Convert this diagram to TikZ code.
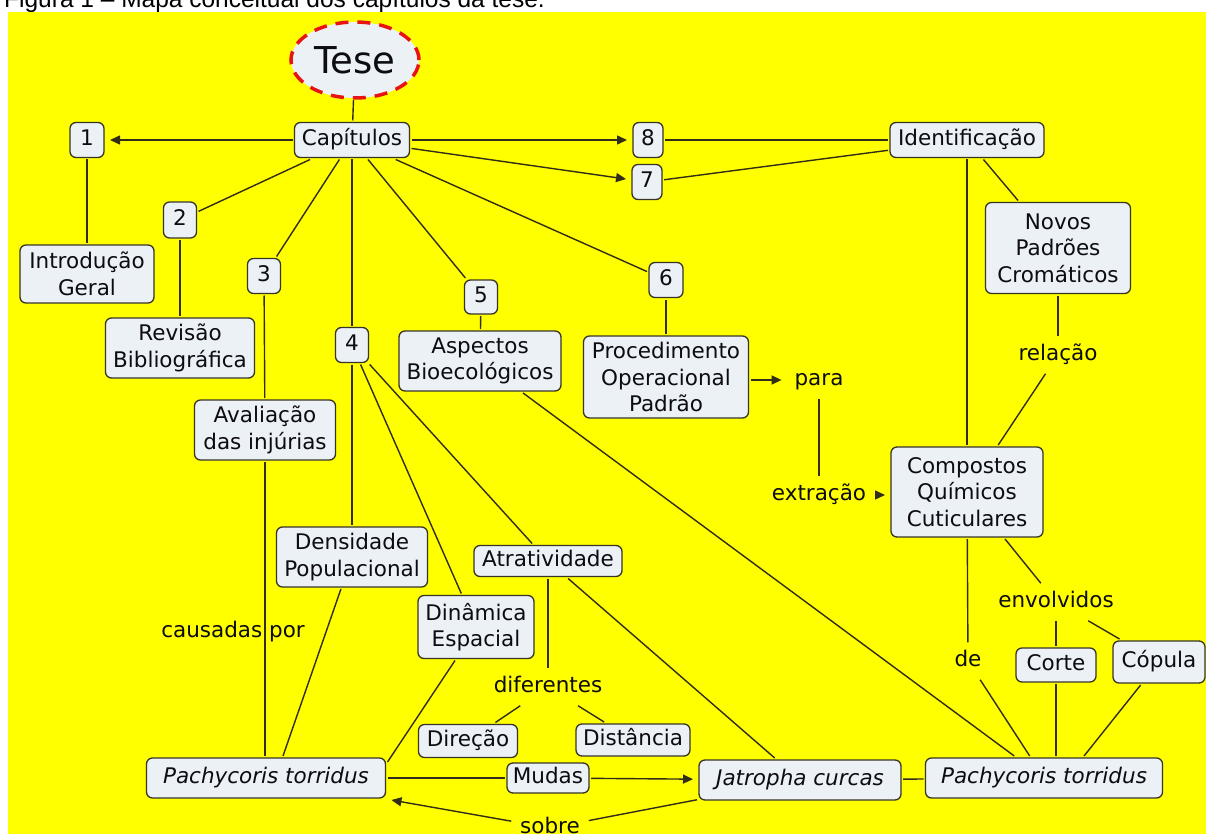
\documentclass[tikz,border=0pt]{standalone}
\usepackage{fontspec}
\setmainfont{DejaVu Sans}
\newfontfamily\capfont{Liberation Sans}
\usetikzlibrary{arrows.meta,shapes.geometric,calc}
\definecolor{bgyellow}{RGB}{255,255,0}
\definecolor{boxfill}{RGB}{236,241,246}
\definecolor{boxline}{RGB}{55,52,40}
\definecolor{linecol}{RGB}{50,45,25}
\definecolor{txt}{RGB}{12,12,18}
\definecolor{tesered}{RGB}{232,20,20}
\begin{document}
\begin{tikzpicture}[x=1pt,y=-1pt,
  box/.style={draw=boxline, fill=boxfill, rounded corners=6pt, line width=1.3pt, align=center,
    inner xsep=2pt, inner ysep=0pt, outer sep=2pt, font=\fontsize{21.5}{26.5}\selectfont, text=txt},
  one/.style={text height=15.5pt, text depth=4.5pt},
  lbl/.style={font=\fontsize{21.5}{26.5}\selectfont, text=txt, inner sep=3pt, outer sep=6pt,
    text height=15.5pt, text depth=4pt},
  con/.style={draw=linecol, line width=1.4pt},
  arr/.style={con, -{Triangle[length=10pt,width=9pt]}, shorten >=4pt},
]
\useasboundingbox (0,0) rectangle (1206,834);
\node[anchor=base west, font=\capfont\fontsize{24.5}{24.5}\selectfont, inner sep=0pt] (caption) at (4,7.5)
  {Figura 1 – Mapa conceitual dos capítulos da tese.};
\fill[bgyellow] (8,12) rectangle (1206,834);

% Tese
\node[ellipse, draw=tesered, line width=3.5pt, dash pattern=on 13pt off 9pt, fill=boxfill,
  minimum width=128pt, minimum height=76pt, inner sep=0pt, outer sep=2pt,
  font=\fontsize{37}{37}\selectfont, text=txt] (tese) at (355,60) {Tese};

% boxes
\node[box, one, minimum width=115pt, minimum height=35pt] (cap) at (352,140) {Capítulos};
\node[box, one, minimum width=34pt, minimum height=35pt] (n1) at (87,140) {1};
\node[box, one, minimum width=30pt, minimum height=35pt] (n8) at (648,140) {8};
\node[box, one, minimum width=30pt, minimum height=35pt] (n7) at (647,182) {7};
\node[box, one, minimum width=154pt, minimum height=35pt] (ident) at (967,140) {Identificação};
\node[box, one, minimum width=33pt, minimum height=36pt] (n2) at (180,220) {2};
\node[box, minimum width=134pt, minimum height=58pt] (intro) at (87,274) {Introdução\\Geral};
\node[box, one, minimum width=33pt, minimum height=35pt] (n3) at (264,276) {3};
\node[box, minimum width=149pt, minimum height=60pt] (rev) at (180,348) {Revisão\\Bibliográfica};
\node[box, one, minimum width=33pt, minimum height=35pt] (n4) at (352,345) {4};
\node[box, minimum width=141pt, minimum height=60pt] (aval) at (265,430) {Avaliação\\das injúrias};
\node[box, one, minimum width=33pt, minimum height=34pt] (n5) at (481,297) {5};
\node[box, one, minimum width=34pt, minimum height=35pt] (n6) at (666,280) {6};
\node[box, minimum width=162pt, minimum height=60pt] (asp) at (480,361) {Aspectos\\Bioecológicos};
\node[box, minimum width=165pt, minimum height=82pt] (proc) at (666,377) {Procedimento\\Operacional\\Padrão};
\node[box, minimum width=152pt, minimum height=90pt] (comp) at (967,492) {Compostos\\Químicos\\Cuticulares};
\node[box, minimum width=145pt, minimum height=91pt] (novos) at (1058,248) {Novos\\Padrões\\Cromáticos};
\node[box, one, minimum width=80pt, minimum height=34pt] (corte) at (1056,665) {Corte};
\node[box, one, minimum width=92pt, minimum height=42pt] (copula) at (1159,662) {Cópula};
\node[box, one, minimum width=237pt, minimum height=40pt] (pt2) at (1044,778) {\itshape Pachycoris torridus};
\node[box, one, minimum width=202pt, minimum height=40pt] (jat) at (800,780) {\itshape Jatropha curcas};
\node[box, one, minimum width=82pt, minimum height=30pt] (mudas) at (548,778) {Mudas};
\node[box, one, minimum width=99pt, minimum height=33pt] (direcao) at (468,741) {Direção};
\node[box, one, minimum width=114pt, minimum height=32pt] (dist) at (633,740) {Distância};
\node[box, one, minimum width=148pt, minimum height=31pt] (atr) at (548,561) {Atratividade};
\node[box, minimum width=116pt, minimum height=63pt] (din) at (476,627) {Dinâmica\\Espacial};
\node[box, minimum width=151pt, minimum height=60pt] (dens) at (352,557) {Densidade\\Populacional};
\node[box, one, minimum width=239pt, minimum height=40pt] (pt1) at (266,778) {\itshape Pachycoris torridus};

% linking phrases
\node[lbl] (para) at (819,380) {para};
\node[lbl] (extr) at (819,495) {extração};
\node[lbl] (rel) at (1058,355) {relação};
\node[lbl] (env) at (1056,602) {envolvidos};
\node[lbl] (de) at (968,661) {de};
\node[lbl] (dif) at (548,687) {diferentes};
\node[lbl] (sobre) at (550,828) {sobre};

% connectors
\draw[con] (tese) -- (cap);
\draw[arr] (cap) -- (n1);
\draw[con] (cap) -- (n2);
\draw[con] (cap) -- (n3);
\draw[con] (cap) -- (n4);
\draw[con] (cap) -- (n5);
\draw[con] (cap) -- (n6);
\draw[arr] (cap) -- (n7);
\draw[arr] (cap) -- (n8);
\draw[con] (n8) -- (ident);
\draw[con] (n7) -- (ident);
\draw[con] (n1) -- (intro);
\draw[con] (n2) -- (rev);
\draw[con] (n3) -- (aval);
\draw[con] (n4) -- (dens);
\draw[con] (n4) -- (din);
\draw[con] (n4) -- (atr);
\draw[con] (n5) -- (asp);
\draw[con] (n6) -- (proc);
\draw[arr] (proc.east |- para) -- (para);
\draw[con] (para) -- (extr);
\draw[arr] (extr) -- (extr -| comp.west);
\draw[con] (ident) -- (comp);
\draw[con] (ident) -- (novos);
\draw[con] (novos) -- (rel);
\draw[con] (rel) -- (comp);
\draw[con] (comp) -- (env);
\draw[con] (comp) -- (de);
\draw[con] (env) -- (corte);
\draw[con] (env) -- (copula);
\draw[con] (de) -- (pt2);
\draw[con] (corte.south) -- (corte.south |- pt2.north);
\draw[con] (copula) -- ([xshift=40pt]pt2.north);
\draw[con] (asp) -- (pt2);
\draw[con] (jat) -- (pt2);
\draw[arr] (mudas) -- (jat);
\draw[con] (pt1) -- (mudas);
\draw[con] (jat) -- (sobre);
\draw[arr] (sobre) -- (pt1);
\draw[con] (atr) -- (dif);
\draw[con] (dif) -- (direcao);
\draw[con] (dif) -- (dist);
\draw[con] (atr) -- (jat);
\draw[con] (dens) -- ([xshift=17pt]pt1.north);
\draw[con] ([xshift=-21pt]din.south) -- ([yshift=-6pt]pt1.north east);
\draw[con] (aval.south) -- (aval.south |- pt1.north);
\node[font=\fontsize{21.5}{26.5}\selectfont, text=txt, inner sep=0pt, text height=15.5pt, text depth=4pt] (caus) at (233,632) {causadas por};
\end{tikzpicture}
\end{document}
